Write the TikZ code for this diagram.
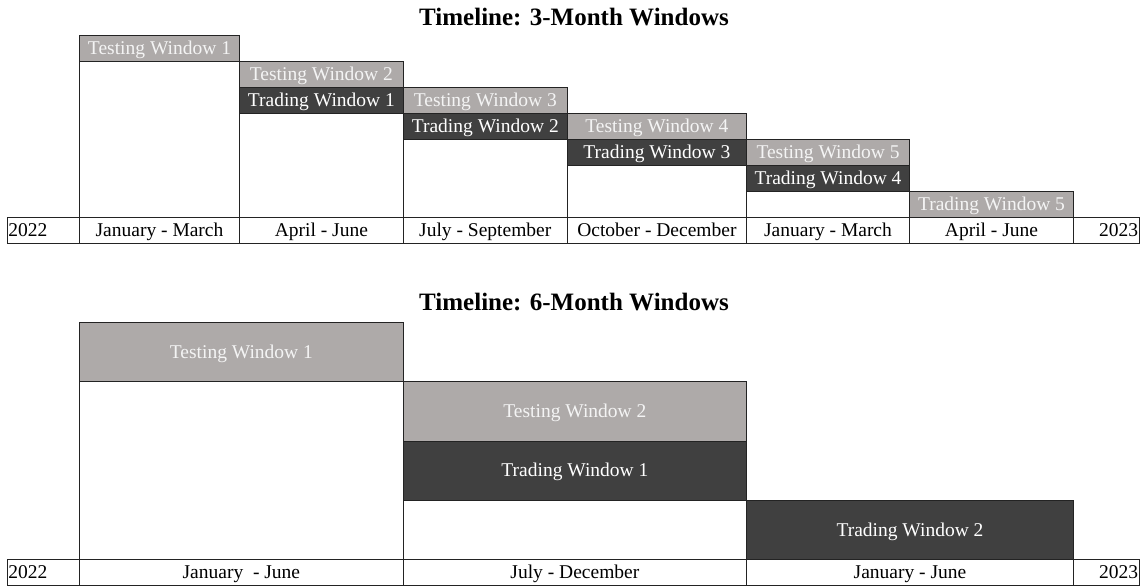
\documentclass[tikz,border=0pt]{standalone}
\usepackage{fontspec}
\setmainfont{Liberation Serif}

\definecolor{testfill}{RGB}{174,170,169}
\definecolor{tradefill}{RGB}{64,64,64}
\definecolor{testtext}{RGB}{244,244,244}
\definecolor{rulecol}{RGB}{35,35,35}

\newcommand\winfont{\fontsize{19.5}{22}\selectfont}
\newcommand\headfont{\fontsize{25}{29}\selectfont\bfseries}

\tikzset{
  cell/.style={draw=rulecol, line width=1pt, inner sep=0pt, outer sep=0pt,
               anchor=north west, font=\winfont, align=center},
  shortrow/.style={minimum height=26pt, text height=18.6pt, text depth=7.4pt},
  tallrow/.style={minimum height=59.3pt, text height=35.7pt, text depth=23.6pt},
  testbox/.style={cell, fill=testfill, text=testtext},
  tradebox/.style={cell, fill=tradefill, text=white},
  axiscell/.style={cell, shortrow, fill=white, text=black},
  colframe/.style={draw=rulecol, line width=1pt, fill=white},
  heading/.style={font=\headfont, anchor=base, inner sep=0pt},
}

\begin{document}
\begin{tikzpicture}[x=1pt, y=1pt]
\useasboundingbox (0,0) rectangle (1141,-586);

% ---------------- 3-month windows ----------------
\node[heading] (head3) at (574,-25.5) {Timeline: 3-Month Windows};

% column frames reaching down to the axis
\draw[colframe] (79.5,-35.7)  rectangle (239.5,-217.7);
\draw[colframe] (239.5,-61.7) rectangle (403.3,-217.7);
\draw[colframe] (403.3,-87.7) rectangle (567.3,-217.7);
\draw[colframe] (567.3,-113.7) rectangle (746.5,-217.7);
\draw[colframe] (746.5,-139.7) rectangle (909.5,-217.7);

% window boxes
\node[testbox, shortrow, minimum width=160pt]   (qtest1)  at (79.5,-35.7)  {Testing Window 1};
\node[testbox, shortrow, minimum width=163.8pt] (qtest2)  at (239.5,-61.7) {Testing Window 2};
\node[tradebox, shortrow, minimum width=163.8pt] (qtrade1) at (239.5,-87.7) {Trading Window 1};
\node[testbox, shortrow, minimum width=164pt]   (qtest3)  at (403.3,-87.7) {Testing Window 3};
\node[tradebox, shortrow, minimum width=164pt]  (qtrade2) at (403.3,-113.7) {Trading Window 2};
\node[testbox, shortrow, minimum width=179.2pt] (qtest4)  at (567.3,-113.7) {Testing Window 4};
\node[tradebox, shortrow, minimum width=179.2pt] (qtrade3) at (567.3,-139.7) {Trading Window 3};
\node[testbox, shortrow, minimum width=163pt]   (qtest5)  at (746.5,-139.7) {Testing Window 5};
\node[tradebox, shortrow, minimum width=163pt]  (qtrade4) at (746.5,-165.7) {Trading Window 4};
\node[testbox, shortrow, minimum width=164pt]   (qtrade5) at (909.5,-191.7) {Trading Window 5};

% axis row
\node[axiscell, minimum width=72pt, align=left, text width=70pt, inner xsep=1pt]    (qy0) at (7.5,-217.7)   {2022};
\node[axiscell, minimum width=160pt]   (qa1) at (79.5,-217.7)  {January - March};
\node[axiscell, minimum width=163.8pt] (qa2) at (239.5,-217.7) {April - June};
\node[axiscell, minimum width=164pt]   (qa3) at (403.3,-217.7) {July - September};
\node[axiscell, minimum width=179.2pt] (qa4) at (567.3,-217.7) {October - December};
\node[axiscell, minimum width=163pt]   (qa5) at (746.5,-217.7) {January - March};
\node[axiscell, minimum width=164pt]   (qa6) at (909.5,-217.7) {April - June};
\node[axiscell, minimum width=65.5pt, align=right, text width=63.5pt, inner xsep=1pt] (qy1) at (1073.5,-217.7) {2023};

% ---------------- 6-month windows ----------------
\node[heading] (head6) at (574,-310.5) {Timeline: 6-Month Windows};

\draw[colframe] (79.5,-322.3)  rectangle (403.3,-559.5);
\draw[colframe] (403.3,-381.7) rectangle (746.5,-559.5);

\node[testbox, tallrow, minimum width=323.8pt]  (htest1)  at (79.5,-322.3)  {Testing Window 1};
\node[testbox, tallrow, minimum width=343.2pt]  (htest2)  at (403.3,-381.7) {Testing Window 2};
\node[tradebox, tallrow, minimum width=343.2pt] (htrade1) at (403.3,-441)   {Trading Window 1};
\node[tradebox, tallrow, minimum width=327pt]   (htrade2) at (746.5,-500.3) {Trading Window 2};

\node[axiscell, minimum width=72pt, align=left, text width=70pt, inner xsep=1pt]    (hy0) at (7.5,-559.5)   {2022};
\node[axiscell, minimum width=323.8pt] (ha1) at (79.5,-559.5)  {January\ \ - June};
\node[axiscell, minimum width=343.2pt] (ha2) at (403.3,-559.5) {July - December};
\node[axiscell, minimum width=327pt]   (ha3) at (746.5,-559.5) {January - June};
\node[axiscell, minimum width=65.5pt, align=right, text width=63.5pt, inner xsep=1pt] (hy1) at (1073.5,-559.5) {2023};
\end{tikzpicture}
\end{document}
